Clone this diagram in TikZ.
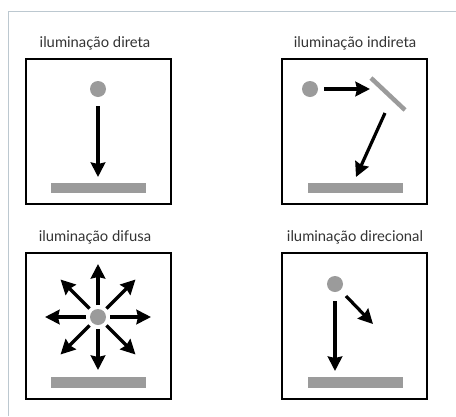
\documentclass[tikz,border=0pt]{standalone}
\usepackage{fontspec}
\setmainfont{Lato}
\usetikzlibrary{arrows.meta,calc}
\definecolor{framec}{HTML}{BCC8D0}
\definecolor{lampc}{HTML}{9B9B9B}
\definecolor{textc}{HTML}{333333}
\tikzset{
  panel/.style={draw=black, line width=1.2pt, fill=white},
  lamp/.style={circle, fill=lampc, minimum size=16pt, inner sep=0pt},
  surface/.style={fill=lampc},
  mirror/.style={draw=lampc, line width=4.5pt},
  ray/.style={draw=black, line width=3.2pt, -{Stealth[length=14.5pt,width=14.5pt,inset=1.5pt]}},
  title/.style={anchor=base, text=textc, font=\fontsize{14.8}{16}\selectfont, inner sep=0pt},
}
\begin{document}
\begin{tikzpicture}[x=1pt,y=-1pt]
\useasboundingbox (0,0) rectangle (456,416);
% outer frame
\coordinate (fbl) at (8,416);
\coordinate (ftl) at (8,11);
\coordinate (ftr) at (456,11);
\draw[framec, line width=1pt] (fbl) -- (ftl) -- (ftr);

% ---------- panel 1: direta
\node[title] (t1) at (95,47) {iluminação direta};
\draw[panel] (26,59) rectangle (171,204);
\node[lamp] (s1) at (98,89) {};
\fill[surface] (51,183) rectangle (146,193);
\coordinate (a1s) at (98,106);
\coordinate (a1e) at (98,177);
\draw[ray] (a1s) -- (a1e);

% ---------- panel 2: indireta
\node[title] (t2) at (355,47) {iluminação indireta};
\draw[panel] (282,59) rectangle (427,204);
\node[lamp] (s2) at (310,89) {};
\fill[surface] (308,183) rectangle (403,193);
\coordinate (m1) at (371,78);
\coordinate (m2) at (405,110);
\draw[mirror] (m1) -- (m2);
\coordinate (a2s) at (324,89);
\coordinate (a2e) at (370,89);
\draw[ray] (a2s) -- (a2e);
\coordinate (a3s) at (385,113);
\coordinate (a3e) at (356,177);
\draw[ray] (a3s) -- (a3e);

% ---------- panel 3: difusa
\node[title] (t3) at (95,241) {iluminação difusa};
\draw[panel] (26,253) rectangle (171,399);
\node[lamp] (s3) at (98,317) {};
\fill[surface] (51,377) rectangle (146,388);
\foreach \ang in {0,45,...,315}{
  \draw[ray] ($(s3)+(\ang:12)$) -- ($(s3)+(\ang:53)$);
}

% ---------- panel 4: direcional
\node[title] (t4) at (355,241) {iluminação direcional};
\draw[panel] (282,253) rectangle (427,399);
\node[lamp] (s4) at (335,284) {};
\fill[surface] (308,377) rectangle (403,388);
\coordinate (a4s) at (335,301);
\coordinate (a4e) at (335,371);
\draw[ray] (a4s) -- (a4e);
\coordinate (a5s) at (346,296);
\coordinate (a5e) at (373,324);
\draw[ray] (a5s) -- (a5e);
\end{tikzpicture}
\end{document}
